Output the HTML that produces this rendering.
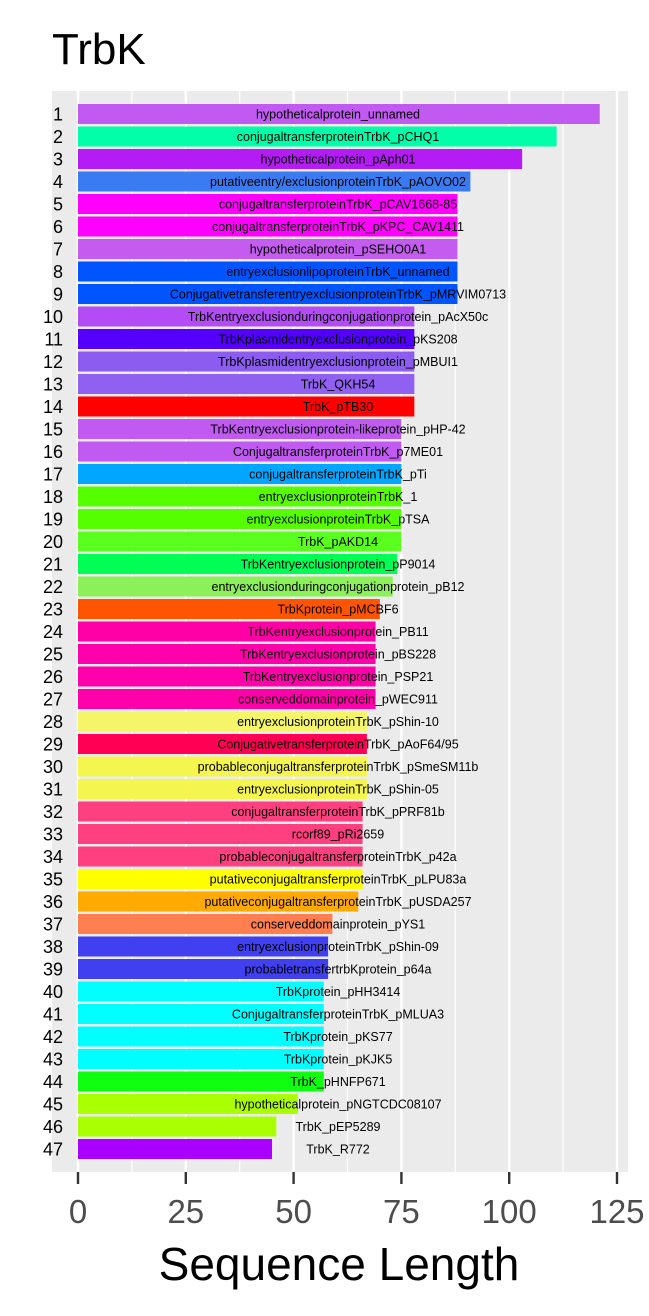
<!DOCTYPE html>
<html><head><meta charset="utf-8"><style>
body{margin:0;background:#fff;width:649px;height:1311px;overflow:hidden;font-family:"Liberation Sans",sans-serif}
</style></head><body>
<svg id="chart" width="649" height="1311" xmlns="http://www.w3.org/2000/svg" font-family="Liberation Sans, sans-serif"></svg>
<script>
const categories=["hypotheticalprotein_unnamed","conjugaltransferproteinTrbK_pCHQ1","hypotheticalprotein_pAph01","putativeentry/exclusionproteinTrbK_pAOVO02","conjugaltransferproteinTrbK_pCAV1668-85","conjugaltransferproteinTrbK_pKPC_CAV1411","hypotheticalprotein_pSEHO0A1","entryexclusionlipoproteinTrbK_unnamed","ConjugativetransferentryexclusionproteinTrbK_pMRVIM0713","TrbKentryexclusionduringconjugationprotein_pAcX50c","TrbKplasmidentryexclusionprotein_pKS208","TrbKplasmidentryexclusionprotein_pMBUI1","TrbK_QKH54","TrbK_pTB30","TrbKentryexclusionprotein-likeprotein_pHP-42","ConjugaltransferproteinTrbK_p7ME01","conjugaltransferproteinTrbK_pTi","entryexclusionproteinTrbK_1","entryexclusionproteinTrbK_pTSA","TrbK_pAKD14","TrbKentryexclusionprotein_pP9014","entryexclusionduringconjugationprotein_pB12","TrbKprotein_pMCBF6","TrbKentryexclusionprotein_PB11","TrbKentryexclusionprotein_pBS228","TrbKentryexclusionprotein_PSP21","conserveddomainprotein_pWEC911","entryexclusionproteinTrbK_pShin-10","ConjugativetransferproteinTrbK_pAoF64/95","probableconjugaltransferproteinTrbK_pSmeSM11b","entryexclusionproteinTrbK_pShin-05","conjugaltransferproteinTrbK_pPRF81b","rcorf89_pRi2659","probableconjugaltransferproteinTrbK_p42a","putativeconjugaltransferproteinTrbK_pLPU83a","putativeconjugaltransferproteinTrbK_pUSDA257","conserveddomainprotein_pYS1","entryexclusionproteinTrbK_pShin-09","probabletransfertrbKprotein_p64a","TrbKprotein_pHH3414","ConjugaltransferproteinTrbK_pMLUA3","TrbKprotein_pKS77","TrbKprotein_pKJK5","TrbK_pHNFP671","hypotheticalprotein_pNGTCDC08107","TrbK_pEP5289","TrbK_R772"];
const values=[121,111,103,91,88,88,88,88,88,78,78,78,78,78,75,75,75,75,75,75,74,73,70,69,69,69,69,67,67,67,67,66,66,66,66,65,59,58,58,57,57,57,57,57,51,46,45];
const colors=["#c05af0","#00ffa8","#b41bf5","#3b7bf2","#ff00ff","#ff00ff","#c45cf0","#0055ff","#0055ff","#b44cf5","#5500ff","#8c5cf0","#9060f0","#ff0000","#c05af0","#c05af0","#00a6ff","#55ff00","#55ff00","#5aff20","#00ff55","#8cf05a","#ff5500","#ff00a6","#ff00aa","#ff00aa","#ff00aa","#f5f56a","#ff0055","#f5f550","#f5f550","#ff4080","#ff4080","#ff4080","#ffff00","#ffaa00","#ff7f50","#4040f0","#4040f0","#00ffff","#00ffff","#00ffff","#00ffff","#10ff10","#aaff00","#aaff00","#aa00ff"];
const xTicks=[0,25,50,75,100,125];
const NS="http://www.w3.org/2000/svg";
const svg=document.getElementById('chart');
const L=52,R=628,T=91,B=1172;
const x=v=>78+v*(617-78)/125;
const step=22.5;
const yc=i=>114+i*step;
function el(t,a,p){const e=document.createElementNS(NS,t);for(const k in a)e.setAttribute(k,a[k]);(p||svg).appendChild(e);return e;}
const bg=el('rect',{x:L,y:T,width:R-L,height:B-T,fill:'#ebebeb'});


for(let i=0;i<xTicks.length-1;i++){const m=(xTicks[i]+xTicks[i+1])/2;const g=el('line',{x1:x(m),x2:x(m),y1:T,y2:B,stroke:'#fff','stroke-width':1.2});}
xTicks.forEach(t=>{const g=el('line',{x1:x(t),x2:x(t),y1:T,y2:B,stroke:'#fff','stroke-width':2.4});
const tk=el('line',{x1:x(t),x2:x(t),y1:B,y2:B+12,stroke:'#333','stroke-width':2.4});
const tl=el('text',{x:x(t),y:1223,'text-anchor':'middle','font-size':33,fill:'#4d4d4d'});tl.textContent=t;});
values.forEach((v,i)=>{
const r=el('rect',{x:x(0),y:yc(i)-10,width:x(v)-x(0),height:20,fill:colors[i]});


const t=el('text',{x:338,y:yc(i)+4.5,'text-anchor':'middle','font-size':12.5,fill:'#000'});t.textContent=categories[i];


const n=el('text',{x:63,y:yc(i)+6.5,'text-anchor':'end','font-size':18,fill:'#000'});n.textContent=i+1;


});
const ti=el('text',{x:52,y:64,'font-size':44,fill:'#000'});ti.textContent='TrbK';


const xt=el('text',{x:339,y:1280,'text-anchor':'middle','font-size':46,fill:'#000'});xt.textContent='Sequence Length';


</script>
</body></html>
